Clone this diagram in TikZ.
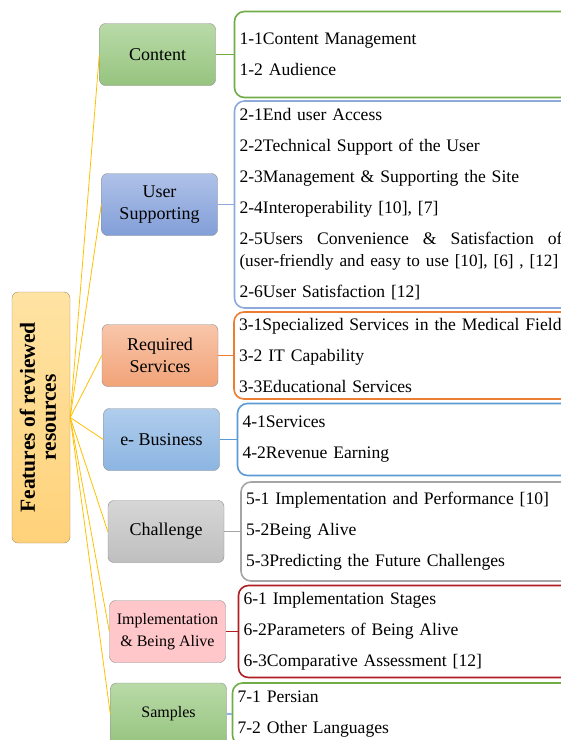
\documentclass[tikz,border=0pt]{standalone}
\usepackage{fontspec}
\setmainfont{Liberation Serif}
\usetikzlibrary{positioning}
\definecolor{rootfillA}{HTML}{FFE3A3}
\definecolor{rootfillB}{HTML}{FFD27A}
\definecolor{rootline}{HTML}{A08C6C}
\definecolor{branchline}{HTML}{FFC000}
\definecolor{greenA}{HTML}{B9DAA8}
\definecolor{greenB}{HTML}{96C47F}
\definecolor{greenline}{HTML}{70AD47}
\definecolor{blueA}{HTML}{AFC1E8}
\definecolor{blueB}{HTML}{829FD8}
\definecolor{blueline}{HTML}{8EA9DB}
\definecolor{orangeA}{HTML}{F8C6AA}
\definecolor{orangeB}{HTML}{F2A378}
\definecolor{orangeline}{HTML}{ED7D31}
\definecolor{skyA}{HTML}{B0CDEC}
\definecolor{skyB}{HTML}{8CB5E2}
\definecolor{skyline}{HTML}{5B9BD5}
\definecolor{grayA}{HTML}{D6D6D6}
\definecolor{grayB}{HTML}{BFBFBF}
\definecolor{grayline}{HTML}{A5A5A5}
\definecolor{pinkfill}{HTML}{FFC7CA}
\definecolor{redline}{HTML}{B01E23}
\tikzstyle{category}=[rectangle,rounded corners=6pt,draw=black!45,thin,
minimum width=116pt,minimum height=62pt,align=center,inner sep=2pt,
font=\fontsize{18}{22}\selectfont]
\tikzstyle{items}=[rectangle,rounded corners=10pt,line width=1.6pt,fill=white,
text width=330pt,inner xsep=5pt,align=left,
font=\fontsize{17.6}{31}\selectfont]
\tikzstyle{branch}=[branchline,line width=0.8pt]
\tikzstyle{link}=[line width=1.6pt]

\begin{document}
\begin{tikzpicture}[x=1pt,y=-1pt]
    \useasboundingbox (0,0) rectangle (561,740);
    \clip (0,0) rectangle (561,740);

    % root
    \node[rectangle,rounded corners=6pt,draw=rootline,top color=rootfillA,
      bottom color=rootfillB,minimum width=58pt,minimum height=251pt,inner sep=0pt]
      (root) at (41,417.5) {\rotatebox{90}{\fontsize{21.5}{21}\selectfont\bfseries
      \begin{tabular}{@{}c@{}}Features of reviewed\\resources\end{tabular}}};

    % categories
    \node[category,top color=greenA,bottom color=greenB] (content) at (157.5,54.5) {Content};
    \node[category,top color=blueA,bottom color=blueB] (user) at (159.5,204.5) {User\\Supporting};
    \node[category,top color=orangeA,bottom color=orangeB] (services) at (160,355.5) {Required\\Services};
    \node[category,top color=skyA,bottom color=skyB] (business) at (161.5,439.5) {e- Business};
    \node[category,top color=grayA,bottom color=grayB] (challenge) at (166,531.5) {Challenge};
    \node[category,fill=pinkfill,font=\fontsize{16}{22}\selectfont] (alive) at (167.5,631.5)
      {Implementation\\\& Being Alive};
    \node[category,top color=greenA,bottom color=greenB,font=\fontsize{16}{22}\selectfont]
      (samples) at (168.5,714) {Samples};

    % item lists
    \node[items,draw=greenline,minimum height=86pt] (contentlist) [right=18pt of content]
      {1-1Content Management\\1-2 Audience};
    \node[items,draw=blueline,minimum height=207pt] (userlist) [right=16pt of user]
      {2-1End user Access\\2-2Technical Support of the User\\
       2-3Management \& Supporting the Site\\2-4Interoperability [10], [7]\\
       \makebox[323pt][l]{2-5Users\hfill Convenience\hfill \&\hfill Satisfaction\hfill of}\\[-9pt]
       \mbox{\fontsize{17.2}{31}\selectfont(user-friendly and easy to use [10], [6] , [12]}\\
       2-6User Satisfaction [12]};
    \node[items,draw=orangeline,minimum height=87pt] (serviceslist) [right=15pt of services]
      {3-1Specialized Services in the Medical Field\\3-2 IT Capability\\3-3Educational Services};
    \node[items,draw=skyline,minimum height=72pt] (businesslist) [right=17pt of business]
      {4-1Services\\4-2Revenue Earning};
    \node[items,draw=grayline,minimum height=99pt] (challengelist) [right=16pt of challenge]
      {5-1 Implementation and Performance [10]\\5-2Being Alive\\5-3Predicting the Future Challenges};
    \node[items,draw=redline,minimum height=92pt] (alivelist) [right=12pt of alive]
      {6-1 Implementation Stages\\6-2Parameters of Being Alive\\6-3Comparative Assessment [12]};
    \node[items,draw=greenline,minimum height=62pt] (sampleslist) [right=5pt of samples]
      {7-1 Persian\\7-2 Other Languages};

    % connectors
    \foreach \cat in {content,user,services,business,challenge,alive,samples}
      \draw[branch] (root.east) -- (\cat.west);
    \draw[link,greenline] (content) -- (contentlist);
    \draw[link,blueline] (user) -- (userlist);
    \draw[link,orangeline] (services) -- (serviceslist);
    \draw[link,skyline] (business) -- (businesslist);
    \draw[link,grayline] (challenge) -- (challengelist);
    \draw[link,redline] (alive) -- (alivelist);
    \draw[link,skyB] (samples) -- (sampleslist);
  \end{tikzpicture}
\end{document}
